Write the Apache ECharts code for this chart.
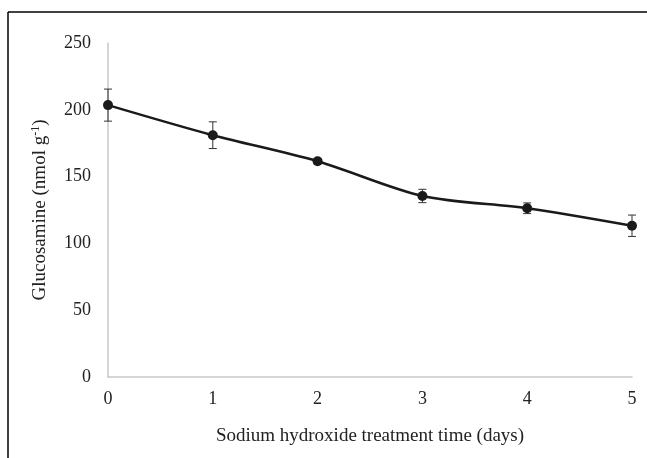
<!DOCTYPE html>
<html>
<head>
<meta charset="utf-8">
<script src="https://cdn.jsdelivr.net/npm/echarts@6/dist/echarts.min.js"></script>
<style>
  html, body { margin: 0; padding: 0; background: #fff; }
  #chart { width: 647px; height: 458px; }
</style>
</head>
<body>
<div id="chart"></div>
<script>
// data
var days = [0, 1, 2, 3, 4, 5];
var glucosamine = [203.5, 181, 161.5, 135.5, 126.3, 113.2];
var errors = [12, 10, 2, 5, 4, 8];
var yTicks = [0, 50, 100, 150, 200, 250];

var chart = echarts.init(document.getElementById('chart'));

var linePoints = days.map(function (d, i) { return [d, glucosamine[i]]; });
var errPoints = days.map(function (d, i) {
    return [d, glucosamine[i] - errors[i], glucosamine[i] + errors[i]];
});

var option = {
    backgroundColor: '#fff',
    animation: false,
    textStyle: { fontFamily: 'Liberation Serif' },
    // frame around the chart (only top and left edges visible)
    graphic: [
        { type: 'line', shape: { x1: 8, y1: 12, x2: 647, y2: 12 }, style: { stroke: '#000', lineWidth: 1.5 } },
        { type: 'line', shape: { x1: 8, y1: 12, x2: 8, y2: 458 }, style: { stroke: '#000', lineWidth: 1.5 } }
    ],
    grid: { left: 108, right: 15, top: 43, bottom: 81 },
    xAxis: {
        type: 'value',
        min: 0, max: 5, interval: 1,
        name: 'Sodium hydroxide treatment time (days)',
        nameLocation: 'middle',
        nameGap: 50,
        nameTextStyle: { fontFamily: 'Liberation Serif', fontSize: 19, color: '#222' },
        axisLine: { show: true, lineStyle: { color: '#c8c8c8', width: 1.5 } },
        axisTick: { show: false },
        splitLine: { show: false },
        axisLabel: { fontFamily: 'Liberation Serif', fontSize: 18, color: '#222', margin: 13 }
    },
    yAxis: {
        type: 'value',
        min: yTicks[0], max: yTicks[yTicks.length - 1], interval: 50,
        name: '{a|Glucosamine (nmol g}{s|-1}{a|)}',
        nameLocation: 'middle',
        nameGap: 58,
        nameRotate: 90,
        nameTextStyle: {
            rich: {
                a: { fontFamily: 'Liberation Serif', fontSize: 19, color: '#222' },
                s: { fontFamily: 'Liberation Serif', fontSize: 12, color: '#222', verticalAlign: 'top', padding: [0, 0, 8, 0] }
            }
        },
        axisLine: { show: true, lineStyle: { color: '#c8c8c8', width: 1.5 } },
        axisTick: { show: false },
        splitLine: { show: false },
        axisLabel: { fontFamily: 'Liberation Serif', fontSize: 18, color: '#222', margin: 17 }
    },
    series: [
        {
            type: 'custom',
            name: 'error',
            data: errPoints,
            z: 3,
            renderItem: function (params, api) {
                var x = api.value(0);
                var lo = api.coord([x, api.value(1)]);
                var hi = api.coord([x, api.value(2)]);
                var cap = 4;
                var st = { stroke: '#333', lineWidth: 1 };
                return {
                    type: 'group',
                    children: [
                        { type: 'line', shape: { x1: lo[0], y1: lo[1], x2: hi[0], y2: hi[1] }, style: st },
                        { type: 'line', shape: { x1: hi[0] - cap, y1: hi[1], x2: hi[0] + cap, y2: hi[1] }, style: st },
                        { type: 'line', shape: { x1: lo[0] - cap, y1: lo[1], x2: lo[0] + cap, y2: lo[1] }, style: st }
                    ]
                };
            }
        },
        {
            type: 'line',
            name: 'Glucosamine',
            data: linePoints,
            smooth: 0.3,
            symbol: 'circle',
            symbolSize: 10,
            z: 4,
            lineStyle: { color: '#1a1a1a', width: 2.5 },
            itemStyle: { color: '#1a1a1a' }
        }
    ]
};

chart.setOption(option);
</script>
</body>
</html>
